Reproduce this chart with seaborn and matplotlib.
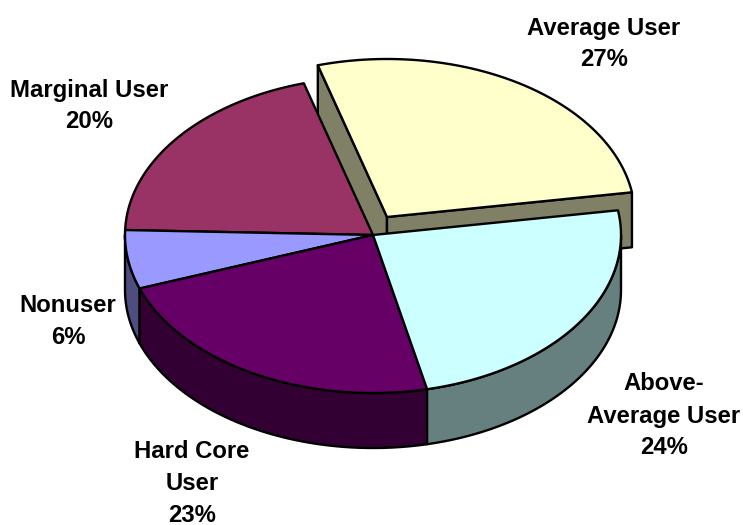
import matplotlib
matplotlib.use("Agg")
import matplotlib.pyplot as plt
from matplotlib.patches import Polygon
import numpy as np
import seaborn as sns

categories = ["Average User", "Marginal User", "Nonuser", "Hard Core\nUser", "Above-\nAverage User"]
shares = [27, 20, 6, 23, 24]
slice_colors = ["#FFFFCC", "#993366", "#9999FF", "#660066", "#CCFFFF"]
label_x = [604, 89, 68, 192, 664]
label_y = [44, 106, 321, 483, 416]
exploded = "Average User"

sns.set_style("white")
plt.rcParams["font.family"] = ["Liberation Sans", "DejaVu Sans"]

palette = sns.color_palette(slice_colors)

### pie geometry in picture pixels ###

cx, cy = 373, 235
rx, ry = 248, 158
depth = 55
lift_x, lift_y = 14, -18
start_angle = 9.0
edge = {"edgecolor": "black", "linewidth": 1.7, "joinstyle": "round"}


def rim(a1, a2, ox=0, oy=0):
    t = np.radians(np.linspace(a1, a2, 120))
    return np.column_stack([cx + ox + rx * np.cos(t), cy + oy - ry * np.sin(t)])


def draw_top(ax, a1, a2, color, ox=0, oy=0):
    pts = np.vstack([[cx + ox, cy + oy], rim(a1, a2, ox, oy)])
    ax.add_patch(Polygon(pts, closed=True, facecolor=color, **edge))


def draw_wall(ax, pts, color):
    low = pts[::-1] + [0, depth]
    ax.add_patch(Polygon(np.vstack([pts, low]), closed=True, facecolor=color, **edge))


def dark(color):
    return tuple(c * 0.5 for c in color)


fig, ax = plt.subplots(figsize=(7.43, 5.25), dpi=100)
fig.subplots_adjust(0, 0, 1, 1)
ax.set_xlim(0, 743)
ax.set_ylim(525, 0)
ax.axis("off")

# slices run counter clockwise from the start angle
ends = start_angle + np.cumsum(shares) * 3.6
starts = np.r_[start_angle, ends[:-1]]

### pulled out slice goes first, the rest of the pie sits over it ###

for name, a1, a2, color in zip(categories, starts, ends, palette):
    if name != exploded:
        continue
    apex = np.array([[cx + lift_x, cy + lift_y]])
    side = dark(color)
    draw_wall(ax, np.vstack([apex, rim(a2, a2, lift_x, lift_y)[:1]]), side)
    draw_wall(ax, np.vstack([apex, rim(a1, a1, lift_x, lift_y)[:1]]), side)
    draw_top(ax, a1, a2, color, lift_x, lift_y)

for name, a1, a2, color in zip(categories, starts, ends, palette):
    if name == exploded:
        continue
    # outer wall only shows on the front half of the ellipse
    lo = max(a1, 180)
    hi = min(a2, 360)
    if hi > lo:
        draw_wall(ax, rim(lo, hi), dark(color))

for name, a1, a2, color in zip(categories, starts, ends, palette):
    if name != exploded:
        draw_top(ax, a1, a2, color)

for name, share, x, y in zip(categories, shares, label_x, label_y):
    ax.text(x, y, f"{name}\n{share}%", ha="center", va="center", fontsize=17.2,
            fontweight="bold", color="black", linespacing=1.5)

fig.savefig("out.png", dpi=100)
